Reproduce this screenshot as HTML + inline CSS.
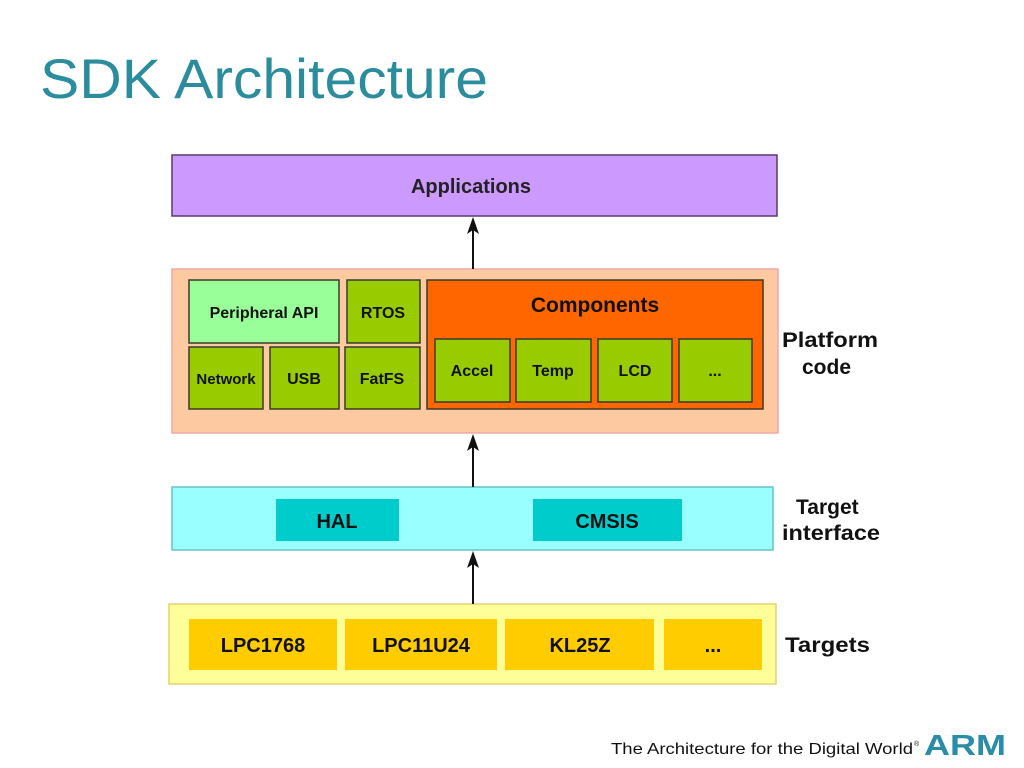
<!DOCTYPE html>
<html><head><meta charset="utf-8"><style>
html,body{margin:0;padding:0;background:#fff;}
svg{display:block;}
text{font-family:"Liberation Sans",Arial,sans-serif;}
</style></head><body>
<svg width="1024" height="768" viewBox="0 0 1024 768" xmlns="http://www.w3.org/2000/svg">
<rect width="1024" height="768" fill="#fff"/>
<text x="40" y="98" font-size="56" fill="#2a8c9c" textLength="448" lengthAdjust="spacingAndGlyphs">SDK Architecture</text>

<rect x="172" y="155" width="605" height="61" fill="#cc99ff" stroke="#5a3a6a" stroke-width="1.5"/>
<text x="471" y="193" font-size="20" font-weight="bold" text-anchor="middle" fill="#222">Applications</text>

<rect x="172" y="269" width="606" height="164" fill="#fcc9a0" stroke="#f0a8a8" stroke-width="1.5"/>
<g stroke="#3a3a2a" stroke-width="1.5">
<rect x="189" y="280" width="150" height="63" fill="#99ff99"/>
<rect x="347" y="280" width="73" height="63" fill="#99cc00"/>
<rect x="189" y="347" width="74" height="62" fill="#99cc00"/>
<rect x="270" y="347" width="69" height="62" fill="#99cc00"/>
<rect x="345" y="347" width="75" height="62" fill="#99cc00"/>
<rect x="427" y="280" width="336" height="129" fill="#ff6600"/>
<rect x="435" y="339" width="75" height="63" fill="#99cc00"/>
<rect x="516" y="339" width="75" height="63" fill="#99cc00"/>
<rect x="598" y="339" width="74" height="63" fill="#99cc00"/>
<rect x="679" y="339" width="73" height="63" fill="#99cc00"/>
</g>
<g font-size="16" font-weight="bold" text-anchor="middle" fill="#111">
<text x="264" y="318">Peripheral API</text>
<text x="383" y="318">RTOS</text>
<text x="226" y="384" font-size="15">Network</text>
<text x="304" y="384">USB</text>
<text x="382" y="384">FatFS</text>
<text x="595" y="312" font-size="21">Components</text>
<text x="472" y="376">Accel</text>
<text x="553" y="376">Temp</text>
<text x="635" y="376">LCD</text>
<text x="715" y="376">...</text>
</g>

<rect x="172" y="487" width="601" height="63" fill="#99ffff" stroke="#66c2c8" stroke-width="1.5"/>
<rect x="276" y="499" width="123" height="42" fill="#00cccc"/>
<rect x="533" y="499" width="149" height="42" fill="#00cccc"/>
<g font-size="20" font-weight="bold" text-anchor="middle" fill="#111">
<text x="337" y="528">HAL</text>
<text x="607" y="528">CMSIS</text>
</g>

<rect x="169" y="604" width="607" height="80" fill="#ffff99" stroke="#e6d070" stroke-width="1.5"/>
<g fill="#ffcc00">
<rect x="189" y="619" width="148" height="51"/>
<rect x="345" y="619" width="152" height="51"/>
<rect x="505" y="619" width="149" height="51"/>
<rect x="664" y="619" width="98" height="51"/>
</g>
<g font-size="20" font-weight="bold" text-anchor="middle" fill="#111">
<text x="263" y="652">LPC1768</text>
<text x="421" y="652">LPC11U24</text>
<text x="580" y="652">KL25Z</text>
<text x="713" y="652">...</text>
</g>

<g stroke="#111" stroke-width="2">
<line x1="473" y1="269" x2="473" y2="226"/>
<line x1="473" y1="487" x2="473" y2="443"/>
<line x1="473" y1="604" x2="473" y2="560"/>
</g>
<g fill="#111">
<path d="M473 217 L467 234 L473 230 L479 234 Z"/>
<path d="M473 434 L467 451 L473 447 L479 451 Z"/>
<path d="M473 551 L467 568 L473 564 L479 568 Z"/>
</g>

<g font-size="21" font-weight="bold" fill="#111">
<text x="782" y="347" textLength="96" lengthAdjust="spacingAndGlyphs">Platform</text>
<text x="802" y="374">code</text>
<text x="796" y="514">Target</text>
<text x="782" y="540" textLength="98" lengthAdjust="spacingAndGlyphs">interface</text>
<text x="785" y="652" textLength="85" lengthAdjust="spacingAndGlyphs">Targets</text>
</g>

<text x="611" y="754" font-size="16" fill="#111" textLength="302" lengthAdjust="spacingAndGlyphs">The Architecture for the Digital World</text>
<text x="914" y="746" font-size="7" fill="#111">®</text>
<text x="924" y="755" font-size="29" font-weight="bold" fill="#2a8ca6" textLength="82" lengthAdjust="spacingAndGlyphs">ARM</text>
</svg>
</body></html>
